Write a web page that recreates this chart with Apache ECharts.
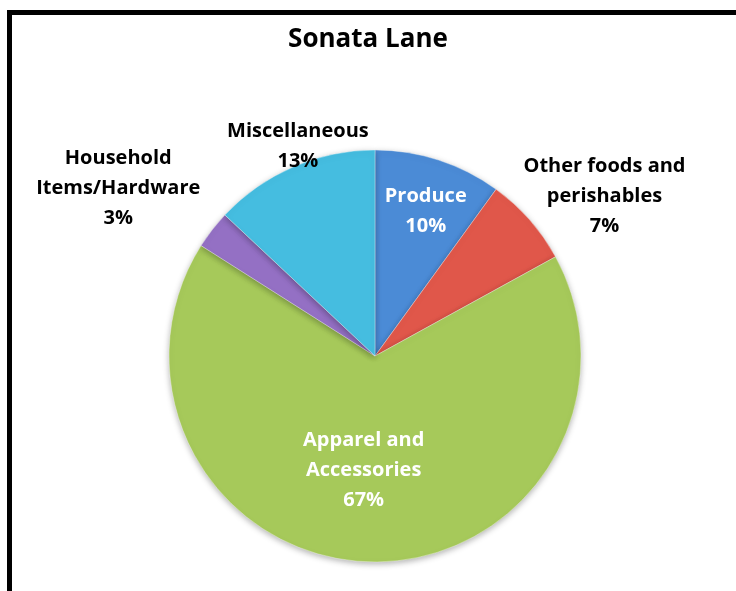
<!DOCTYPE html>
<html>
<head>
    <meta charset="utf-8">
    <style>
        body { margin: 0; background: #fff; }
        #frame {
            position: absolute;
            left: 7px;
            top: 10px;
            width: 800px;
            height: 700px;
            border-left: 5px solid #000;
            border-top: 5px solid #000;
        }
        #main {
            position: absolute;
            left: 0;
            top: 0;
            width: 736px;
            height: 591px;
        }
    </style>
    <script src="https://cdn.jsdelivr.net/npm/echarts@6/dist/echarts.min.js"></script>
</head>
<body>
<div id="frame"></div>
<div id="main"></div>
<script>
    var title = 'Sonata Lane';
    var categories = ['Produce', 'Other foods and\nperishables', 'Apparel and\nAccessories', 'Household\nItems/Hardware', 'Miscellaneous'];
    var values = [10, 7, 67, 3, 13];
    var colors = ['#4b8bd6', '#e0574a', '#a6c95a', '#9470c4', '#45bde0'];
    var labelColors = ['#ffffff', '#000000', '#ffffff', '#000000', '#000000'];
    // nudge each label from the slice middle to where the original put it
    var labelOffsets = [[18, -44], [150, -90], [-8, 8], [-173, -103], [-35, -112]];

    var chart = echarts.init(document.getElementById('main'));

    var data = categories.map(function (name, i) {
        return {
            name: name,
            value: values[i],
            itemStyle: { color: colors[i] },
            label: { color: labelColors[i], offset: labelOffsets[i] }
        };
    });

    var option = {
        animation: false,
        title: {
            text: title,
            left: 'center',
            top: 22,
            textStyle: { fontFamily: 'Open Sans', fontWeight: 'bold', fontSize: 26, color: '#000' }
        },
        series: [{
            type: 'pie',
            center: [375, 356],
            radius: 206,
            startAngle: 90,
            clockwise: true,
            percentPrecision: 0,
            avoidLabelOverlap: false,
            itemStyle: {
                borderColor: 'rgba(255,255,255,0.35)',
                borderWidth: 1,
                shadowBlur: 6,
                shadowOffsetY: 2,
                shadowColor: 'rgba(0,0,0,0.3)'
            },
            label: {
                show: true,
                position: 'inside',
                formatter: '{b}\n{d}%',
                fontFamily: 'Open Sans',
                fontWeight: 'bold',
                fontSize: 20,
                lineHeight: 30,
                align: 'center'
            },
            labelLine: { show: false },
            emphasis: { disabled: true },
            data: data
        }]
    };

    chart.setOption(option);
</script>
</body>
</html>
